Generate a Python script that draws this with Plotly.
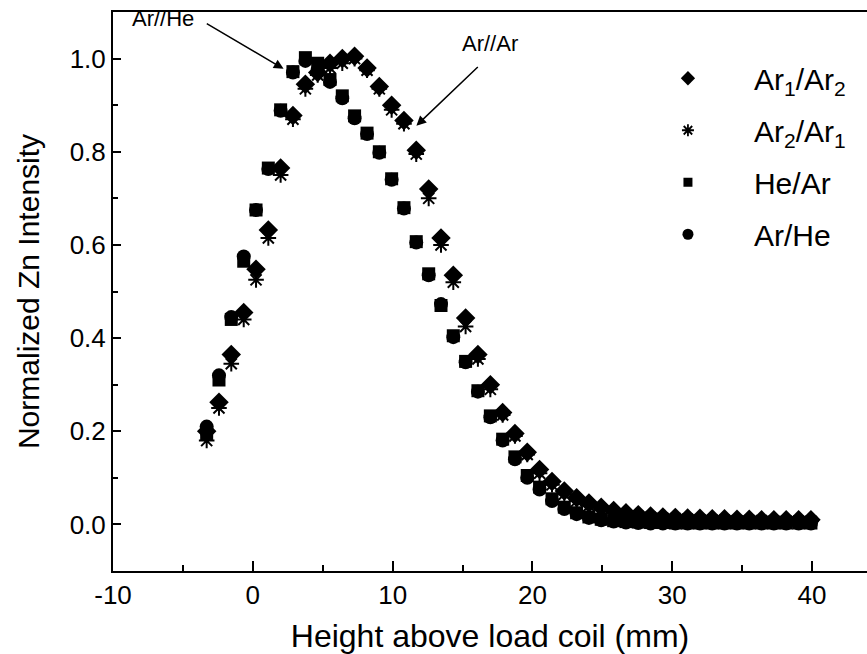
import plotly.graph_objects as go

# x grid (mm) - 50 positions from about -3.3 to 40 mm
height_mm = [-3.3, -2.42, -1.54, -0.65, 0.23, 1.11, 1.99, 2.87, 3.76, 4.64,
             5.52, 6.40, 7.28, 8.17, 9.05, 9.93, 10.81, 11.69, 12.58, 13.46,
             14.34, 15.22, 16.10, 16.99, 17.87, 18.75, 19.63, 20.51, 21.40, 22.28,
             23.16, 24.04, 24.92, 25.81, 26.69, 27.57, 28.45, 29.33, 30.22, 31.10,
             31.98, 32.86, 33.74, 34.63, 35.51, 36.39, 37.27, 38.15, 39.04, 39.92]

ar1_ar2 = [0.200, 0.262, 0.365, 0.455, 0.548, 0.632, 0.765, 0.878, 0.945, 0.970,
           0.990, 1.000, 1.005, 0.980, 0.940, 0.900, 0.867, 0.803, 0.720, 0.615,
           0.535, 0.443, 0.365, 0.300, 0.240, 0.195, 0.155, 0.118, 0.092, 0.072,
           0.057, 0.046, 0.037, 0.030, 0.025, 0.021, 0.018, 0.016, 0.015, 0.014,
           0.013, 0.012, 0.012, 0.011, 0.011, 0.010, 0.010, 0.010, 0.010, 0.010]

ar2_ar1 = [0.180, 0.250, 0.345, 0.440, 0.525, 0.615, 0.750, 0.870, 0.935, 0.965,
           0.980, 0.990, 1.000, 0.975, 0.935, 0.890, 0.860, 0.795, 0.700, 0.600,
           0.520, 0.425, 0.355, 0.290, 0.235, 0.190, 0.150, 0.110, 0.085, 0.065,
           0.050, 0.040, 0.032, 0.025, 0.020, 0.017, 0.015, 0.013, 0.012, 0.011,
           0.010, 0.009, 0.009, 0.008, 0.008, 0.008, 0.007, 0.007, 0.007, 0.007]

he_ar = [0.195, 0.310, 0.440, 0.565, 0.675, 0.765, 0.890, 0.972, 1.002, 0.990,
         0.955, 0.920, 0.877, 0.840, 0.800, 0.742, 0.680, 0.607, 0.538, 0.470,
         0.405, 0.350, 0.287, 0.233, 0.183, 0.145, 0.105, 0.080, 0.055, 0.037,
         0.025, 0.016, 0.011, 0.008, 0.006, 0.005, 0.004, 0.004, 0.003, 0.003,
         0.003, 0.003, 0.003, 0.003, 0.003, 0.003, 0.003, 0.003, 0.003, 0.003]

ar_he = [0.210, 0.320, 0.445, 0.575, 0.675, 0.763, 0.888, 0.970, 0.995, 0.975,
         0.950, 0.915, 0.872, 0.838, 0.798, 0.740, 0.678, 0.605, 0.535, 0.473,
         0.402, 0.348, 0.285, 0.230, 0.180, 0.140, 0.100, 0.075, 0.050, 0.033,
         0.022, 0.014, 0.009, 0.006, 0.004, 0.003, 0.002, 0.002, 0.002, 0.002,
         0.002, 0.002, 0.002, 0.002, 0.002, 0.002, 0.002, 0.002, 0.002, 0.002]

x_tick_vals = [-10, 0, 10, 20, 30, 40]
x_tick_text = ["-10", "0", "10", "20", "30", "40"]
y_tick_vals = [0.0, 0.2, 0.4, 0.6, 0.8, 1.0]
y_tick_text = ["0.0", "0.2", "0.4", "0.6", "0.8", "1.0"]

series = [
    ("Ar<sub>1</sub>/Ar<sub>2</sub>", ar1_ar2, "diamond", 15, 11),
    ("Ar<sub>2</sub>/Ar<sub>1</sub>", ar2_ar1, "asterisk-open", 13, 10),
    ("He/Ar", he_ar, "square", 13, 9),
    ("Ar/He", ar_he, "circle", 14, 11),
]

FONT = "Liberation Sans, Arial, sans-serif"
fig = go.Figure()
for i, (name, ys, sym, size, lsize) in enumerate(series):
    line_w = 2 if sym == "asterisk-open" else 0
    fig.add_trace(go.Scatter(
        x=height_mm, y=ys, mode="markers", name=name, showlegend=False,
        legendgroup=f"g{i}",
        marker=dict(symbol=sym, size=size, color="black",
                    line=dict(color="black", width=line_w)),
    ))
    fig.add_trace(go.Scatter(
        x=[None], y=[None], mode="markers", name=name, showlegend=True,
        legendgroup=f"g{i}",
        marker=dict(symbol=sym, size=lsize, color="black",
                    line=dict(color="black", width=1.8 if sym == "asterisk-open" else 0)),
    ))

axis_common = dict(
    showline=True, linecolor="black", linewidth=2,
    ticks="inside", tickcolor="black", tickwidth=2,
    showgrid=False, zeroline=False,
    tickfont=dict(family=FONT, size=26, color="black"),
)

fig.update_xaxes(
    range=[-10, 43.93], tickmode="array", tickvals=x_tick_vals, ticktext=x_tick_text,
    ticklen=10, mirror=True,
    minor=dict(ticks="inside", ticklen=6, tickwidth=2, tickcolor="black", dtick=5, tick0=0),
    title=dict(text="Height above load coil (mm)", font=dict(family=FONT, size=32, color="black"),
               standoff=16),
    **axis_common,
)
fig.update_yaxes(
    range=[-0.1, 1.1], tickmode="array", tickvals=y_tick_vals, ticktext=y_tick_text,
    ticklen=8, mirror=False,
    minor=dict(ticks="inside", ticklen=5, tickwidth=2, tickcolor="black", dtick=0.1, tick0=0),
    title=dict(text="Normalized Zn Intensity", font=dict(family=FONT, size=30, color="black"),
               standoff=21),
    **axis_common,
)

# Annotations with arrows
fig.add_annotation(x=2.2, y=0.978, ax=-3.4, ay=1.077, xref="x", yref="y", axref="x", ayref="y",
                   text="", showarrow=True, arrowhead=2, arrowsize=1.3, arrowwidth=1.5, arrowcolor="black")
fig.add_annotation(x=-6.4, y=1.085, xref="x", yref="y", text="Ar//He", showarrow=False,
                   font=dict(family=FONT, size=22, color="black"))
fig.add_annotation(x=11.7, y=0.856, ax=16.2, ay=0.985, xref="x", yref="y", axref="x", ayref="y",
                   text="", showarrow=True, arrowhead=2, arrowsize=1.3, arrowwidth=1.5, arrowcolor="black")
fig.add_annotation(x=17.0, y=1.032, xref="x", yref="y", text="Ar//Ar", showarrow=False,
                   font=dict(family=FONT, size=22, color="black"))

fig.update_layout(
    width=867, height=654,
    margin=dict(l=113, r=0, t=12, b=83),
    paper_bgcolor="white", plot_bgcolor="white",
    showlegend=True,
    legend=dict(x=0.675, y=0.928, xanchor="left", yanchor="top",
                font=dict(family=FONT, size=30, color="black"),
                bgcolor="rgba(0,0,0,0)", itemwidth=122, tracegroupgap=10),
)

fig.write_html("out.html")
